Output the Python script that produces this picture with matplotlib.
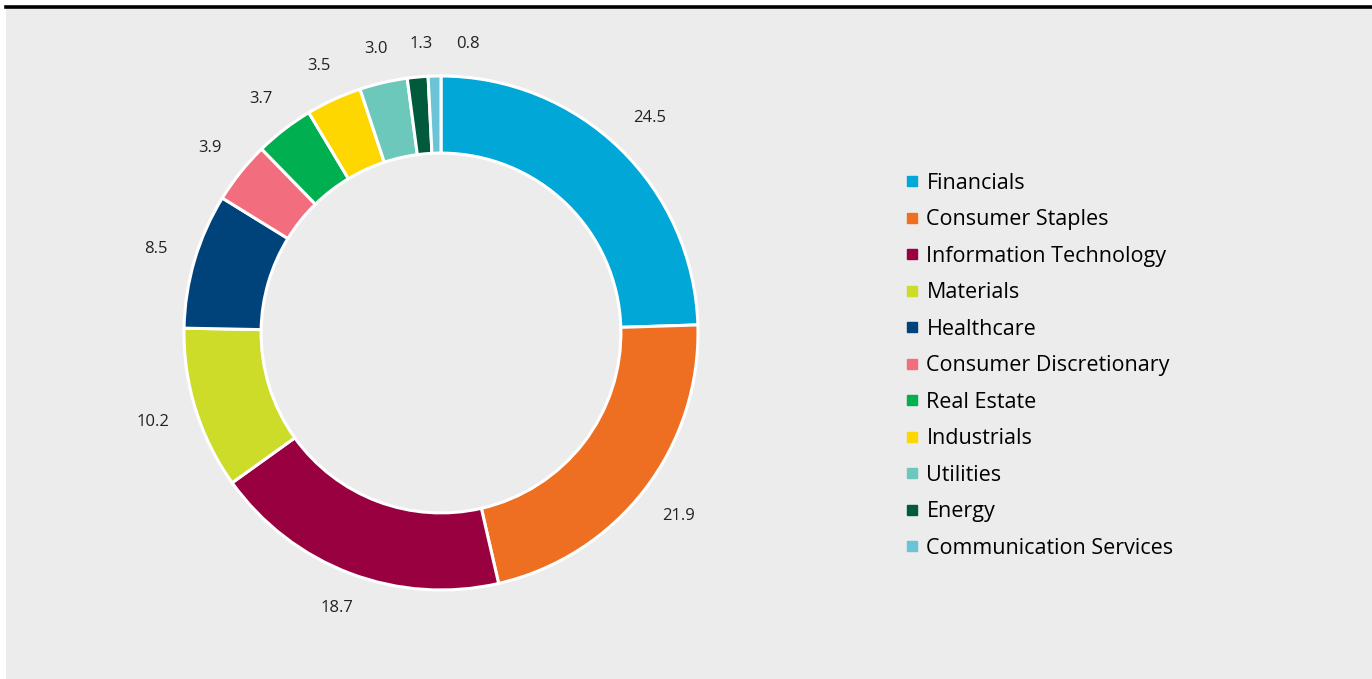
import numpy as np
import matplotlib.pyplot as plt
from matplotlib.lines import Line2D
from matplotlib.patches import Rectangle

plt.rcParams['font.family'] = ['Open Sans', 'DejaVu Sans']

sectors = ["Financials", "Consumer Staples", "Information Technology", "Materials",
           "Healthcare", "Consumer Discretionary", "Real Estate", "Industrials",
           "Utilities", "Energy", "Communication Services"]
weights = [24.5, 21.9, 18.7, 10.2, 8.5, 3.9, 3.7, 3.5, 3.0, 1.3, 0.8]
colors = ["#00a7d7", "#ee6f22", "#990040", "#cddb29", "#00437b", "#f26d7d",
          "#00af50", "#ffd700", "#6bc8bb", "#005a3b", "#6bc3d7"]

W, H = 1372, 679
fig = plt.figure(figsize=(W / 100, H / 100), dpi=100)
fig.patch.set_facecolor("white")

# grey panel + black rule on top
fig.patches.append(Rectangle((6 / W, 0), 1 - 6 / W, 671 / H, transform=fig.transFigure,
                             facecolor="#ececec", edgecolor="none", zorder=-5))
fig.add_artist(Line2D([6 / W, 1], [672.5 / H, 672.5 / H], transform=fig.transFigure,
                      color="black", lw=2.6))

cx, cy, r = 441, 333, 257
ax = fig.add_axes([(cx - r) / W, (H - cy - r) / H, 2 * r / W, 2 * r / H])
ax.set_zorder(2)
wedges, _ = ax.pie(weights, colors=colors, startangle=90, counterclock=False,
                   radius=1, wedgeprops=dict(width=0.3, edgecolor="white", linewidth=2.2))
ax.set_xlim(-1, 1)
ax.set_ylim(-1, 1)
ax.axis("off")

texts = [ax.text(0, 0, f"{v:.1f}", ha="center", va="center", fontsize=12, color="#222222")
         for v in weights]
fig.canvas.draw()
renderer = fig.canvas.get_renderer()

# keep a fixed gap between the ring and the nearest edge of each label
gap = 27 / r
pos = []
for w, t in zip(wedges, texts):
    ang = np.deg2rad((w.theta1 + w.theta2) / 2)
    bb = t.get_window_extent(renderer)
    hw, hh = bb.width / 2 / r, (bb.height / 2 - 3) / r
    d = 1 + gap + abs(np.cos(ang)) * hw + abs(np.sin(ang)) * hh
    pos.append([d * np.cos(ang), d * np.sin(ang)])

# push the crowded top labels apart
step = 46 / r
for i in range(1, len(pos)):
    if pos[i][1] > 1.0 and pos[i - 1][1] > 1.0 and pos[i][0] < pos[i - 1][0] + step:
        pos[i][0] = pos[i - 1][0] + step

for (x, y), t in zip(pos, texts):
    t.set_position((x, y))

handles = [Line2D([], [], marker="s", linestyle="none", markersize=6.5, color=c) for c in colors]
leg = fig.legend(handles, sectors, loc="upper left", bbox_to_anchor=(906 / W, 1 - 173 / H),
                 frameon=False, fontsize=15.5, handlelength=0.6, handletextpad=0.35,
                 labelspacing=0.72, borderpad=0, borderaxespad=0)
leg.set_zorder(3)

fig.savefig("out.png", dpi=100, facecolor=fig.get_facecolor())
